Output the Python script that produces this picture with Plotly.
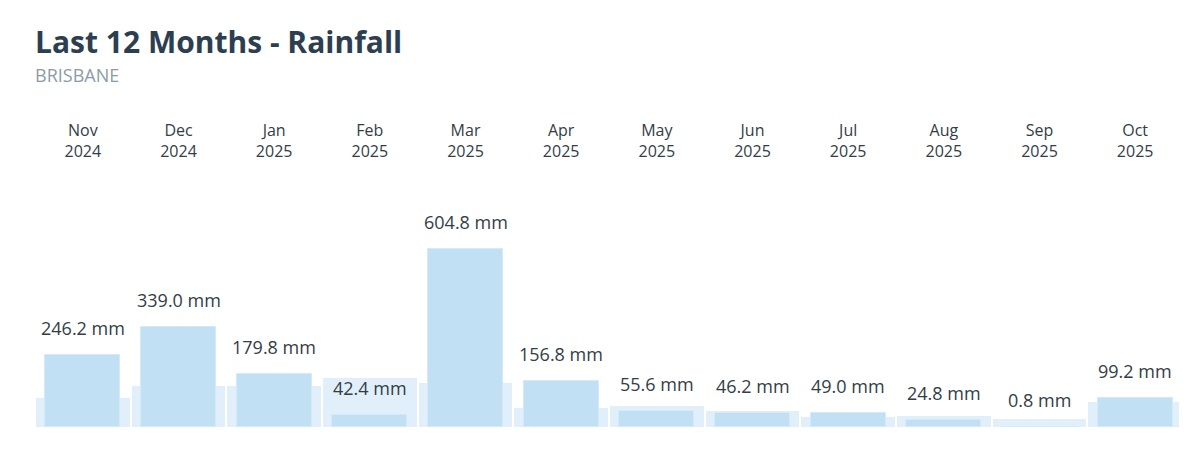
import plotly.graph_objects as go

meses = ["Nov<br>2024", "Dec<br>2024", "Jan<br>2025", "Feb<br>2025", "Mar<br>2025", "Apr<br>2025",
         "May<br>2025", "Jun<br>2025", "Jul<br>2025", "Aug<br>2025", "Sep<br>2025", "Oct<br>2025"]
chuva = [246.2, 339.0, 179.8, 42.4, 604.8, 156.8, 55.6, 46.2, 49.0, 24.8, 0.8, 99.2]
media = [100, 139, 139, 168, 151, 66, 70, 56, 33, 36, 28, 85]

fig = go.Figure()

# Media historica atras (barra larga e clara)
fig.add_trace(go.Bar(
    x=meses, y=media, width=0.98,
    marker=dict(color="#e1effa", line=dict(width=0)),
    hoverinfo="skip", showlegend=False
))

# Chuva do mes
fig.add_trace(go.Bar(
    x=meses, y=chuva, width=0.785,
    marker=dict(color="#c1e0f4", line=dict(color="#d3eaf8", width=1)),
    hovertemplate="%{y:.1f} mm<extra></extra>", showlegend=False
))

for mes, valor in zip(meses, chuva):
    fig.add_annotation(
        x=mes, y=valor, text=f"{valor:.1f} mm", showarrow=False,
        yanchor="middle", yshift=27,
        font=dict(family="Open Sans", size=18, color="#333d47")
    )

# a pagina tem margem de 8px, por isso tudo foi puxado 8px para cima/esquerda
fig.add_annotation(
    x=0, xref="paper", y=1 + (162 - 33) / 257, yref="paper",
    xanchor="left", yanchor="middle", showarrow=False, xshift=-2,
    text="<b>Last 12 Months - Rainfall</b>",
    font=dict(family="Open Sans", size=30, color="#2c3e50")
)
fig.add_annotation(
    x=0, xref="paper", y=1 + (162 - 67) / 257, yref="paper",
    xanchor="left", yanchor="middle", showarrow=False, xshift=-2,
    text="BRISBANE",
    font=dict(family="Open Sans", size=18, color="#8d9ba8")
)

fig.update_layout(
    width=1187, height=456,
    margin=dict(l=27, r=12, t=162, b=37),
    barmode="overlay",
    bargap=0,
    plot_bgcolor="white",
    paper_bgcolor="white",
    xaxis=dict(
        side="top", showgrid=False, zeroline=False, showline=False, ticks="",
        tickfont=dict(family="Open Sans", size=16, color="#333d47"),
        ticklabelstandoff=9,
        range=[-0.5, 11.5]
    ),
    yaxis=dict(visible=False, range=[0, 873]),
    font=dict(family="Open Sans")
)

fig.write_html("out.html")
